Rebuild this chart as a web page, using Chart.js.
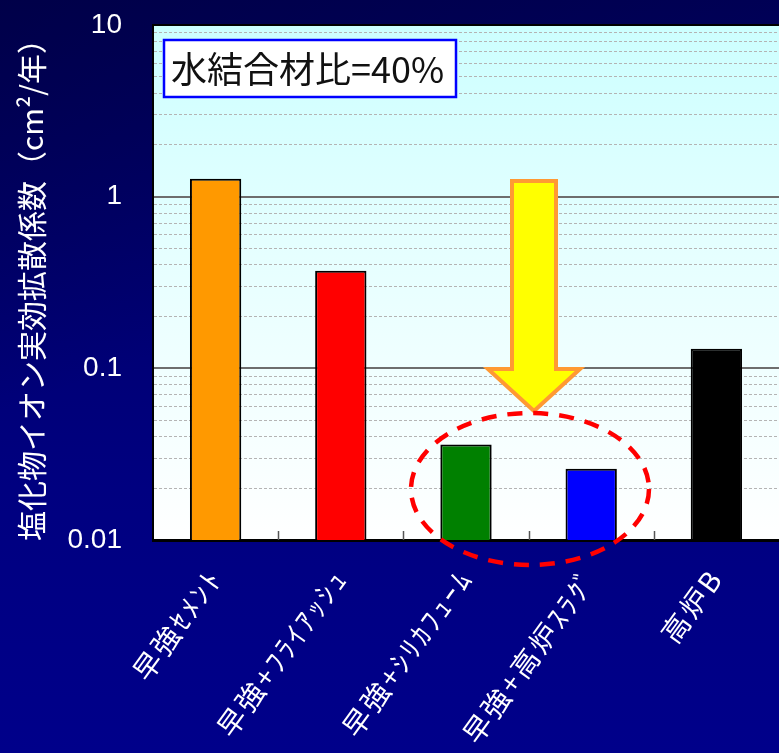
<!DOCTYPE html>
<html>
<head>
<meta charset="utf-8">
<script src="https://cdn.jsdelivr.net/npm/chart.js@4/dist/chart.umd.min.js"></script>
<style>
html, body { margin: 0; padding: 0; overflow: hidden; }
body {
    width: 779px; height: 753px;
    background:
        linear-gradient(160deg, rgba(0,0,40,0.35) 0%, rgba(0,0,40,0) 40%),
        linear-gradient(180deg, #00005a 0%, #00006c 30%, #000080 65%, #00008a 100%);
}
</style>
</head>
<body>
<canvas id="chart" width="779" height="753"></canvas>
<script>
// Data
const categories = ['早強ｾﾒﾝﾄ', '早強+ﾌﾗｲｱｯｼｭ', '早強+ｼﾘｶﾌｭｰﾑ', '早強+高炉ｽﾗｸﾞ', '高炉B'];
const diffusionValues = [1.27, 0.37, 0.036, 0.026, 0.13];
const barColors = ['#ff9900', '#ff0000', '#008000', '#0000ff', '#000000'];
const yGridValues = [
    0.01, 0.02, 0.03, 0.04, 0.05, 0.06, 0.07, 0.08, 0.09,
    0.1, 0.2, 0.3, 0.4, 0.5, 0.6, 0.7, 0.8, 0.9,
    1, 2, 3, 4, 5, 6, 7, 8, 9, 10
];
const yTickLabels = { 0.01: '0.01', 0.1: '0.1', 1: '1', 10: '10' };
const yTitle = '塩化物イオン実効拡散係数（cm²/年）';
const noteText = '水結合材比=40%';

const isMajor = v => yTickLabels[v] !== undefined;

// plot background, frame, small x ticks and the annotations
const decorations = {
    id: 'decorations',
    afterLayout(chart) {
        // the category labels are drawn a little wider spaced than the font gives
        const s = chart.scales.x;
        if (s && !s._spaced) {
            const drawLabels = s.drawLabels;
            s.drawLabels = function (area) {
                this.ctx.save();
                this.ctx.letterSpacing = '3px';
                drawLabels.call(this, area);
                this.ctx.restore();
            };
            s._spaced = true;
        }
    },
    beforeDraw(chart) {
        const { ctx, chartArea: a } = chart;
        const g = ctx.createLinearGradient(0, a.top, 0, a.bottom);
        g.addColorStop(0, '#ccffff');
        g.addColorStop(0.45, '#e6ffff');
        g.addColorStop(1, '#ffffff');
        ctx.save();
        ctx.fillStyle = g;
        ctx.fillRect(a.left, a.top, a.right - a.left, a.bottom - a.top);
        ctx.restore();
    },
    afterDraw(chart) {
        const { ctx, chartArea: a } = chart;
        const x = chart.scales.x;
        ctx.save();
        // top frame
        ctx.strokeStyle = '#000000';
        ctx.lineWidth = 2;
        ctx.beginPath();
        ctx.moveTo(a.left, a.top);
        ctx.lineTo(a.right, a.top);
        ctx.stroke();
        // tick marks between categories
        ctx.strokeStyle = '#555555';
        ctx.lineWidth = 1.5;
        for (let i = 1; i < categories.length; i++) {
            const px = Math.round(x.getPixelForValue(i - 0.5)) + 0.5;
            ctx.beginPath();
            ctx.moveTo(px, a.bottom);
            ctx.lineTo(px, a.bottom - 9);
            ctx.stroke();
        }

        // note box
        ctx.fillStyle = '#ffffff';
        ctx.fillRect(164, 40, 292, 57);
        ctx.strokeStyle = '#0000ff';
        ctx.lineWidth = 2.5;
        ctx.strokeRect(164, 40, 292, 57);
        ctx.fillStyle = '#111111';
        ctx.font = '36px "Noto Sans CJK JP"';
        ctx.textBaseline = 'middle';
        ctx.fillText(noteText, 171, 69);

        // arrow
        ctx.beginPath();
        ctx.moveTo(512, 181);
        ctx.lineTo(556, 181);
        ctx.lineTo(556, 369);
        ctx.lineTo(580, 369);
        ctx.lineTo(534, 411);
        ctx.lineTo(488, 369);
        ctx.lineTo(512, 369);
        ctx.closePath();
        ctx.fillStyle = '#ffff00';
        ctx.fill();
        ctx.strokeStyle = '#ff9933';
        ctx.lineWidth = 4;
        ctx.lineJoin = 'miter';
        ctx.stroke();

        // dashed ellipse
        ctx.beginPath();
        ctx.ellipse(530, 489, 119, 76, 0, 0, Math.PI * 2);
        ctx.strokeStyle = '#ff0000';
        ctx.lineWidth = 4.5;
        ctx.setLineDash([15, 11]);
        ctx.stroke();
        ctx.restore();
    }
};

new Chart(document.getElementById('chart'), {
    type: 'bar',
    data: {
        labels: categories,
        datasets: [{
            data: diffusionValues,
            backgroundColor: barColors,
            borderColor: '#000000',
            borderWidth: 2,
            borderSkipped: 'bottom',
            barPercentage: 0.41,
            categoryPercentage: 1
        }]
    },
    options: {
        responsive: false,
        animation: false,
        layout: { padding: { top: 25, right: 0, left: 0, bottom: 0 } },
        plugins: { legend: { display: false }, tooltip: { enabled: false } },
        scales: {
            x: {
                afterFit: s => { s.height = 213; },
                grid: { display: false },
                border: { color: '#000000', width: 3 },
                ticks: {
                    color: '#ffffff',
                    font: { family: '"Noto Sans CJK JP"', size: 28 },
                    minRotation: 54,
                    maxRotation: 54,
                    autoSkip: false,
                    padding: 14
                }
            },
            y: {
                type: 'logarithmic',
                min: 0.01,
                max: 10,
                afterFit: s => { s.width = 153; },
                afterBuildTicks: s => { s.ticks = yGridValues.map(v => ({ value: v })); },
                grid: {
                    drawTicks: true,
                    tickLength: 28,
                    tickColor: 'rgba(0,0,0,0)',
                    color: c => (c.tick && isMajor(c.tick.value)) ? '#6e6e6e' : '#b4b4b4',
                    lineWidth: c => (c.tick && isMajor(c.tick.value)) ? 2 : 1
                },
                border: {
                    color: '#000000',
                    width: 2,
                    dash: c => (c.tick && !isMajor(c.tick.value)) ? [3, 2] : []
                },
                ticks: {
                    autoSkip: false,
                    color: '#ffffff',
                    padding: 3,
                    font: { family: '"Liberation Sans", Arial', size: 28 },
                    callback: v => yTickLabels[v] || ''
                },
                title: {
                    display: true,
                    text: yTitle,
                    color: '#ffffff',
                    font: { family: '"Noto Sans CJK JP"', size: 30 },
                    padding: { top: 14, bottom: 0 }
                }
            }
        }
    },
    plugins: [decorations]
});
</script>
</body>
</html>
